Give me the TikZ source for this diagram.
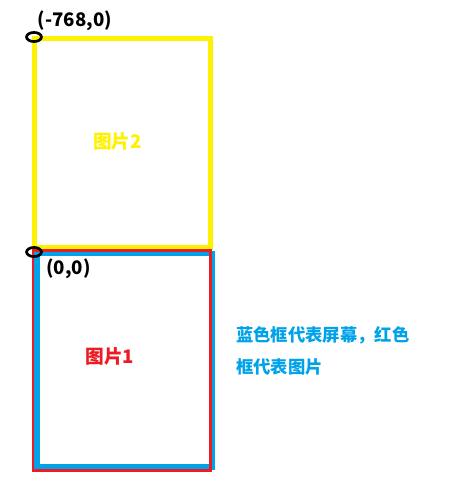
\documentclass[tikz,border=0pt]{standalone}
\usepackage{fontspec}
\newfontfamily\cjk{Noto Sans CJK SC}
\usetikzlibrary{positioning}
\definecolor{pyellow}{RGB}{255,242,0}
\definecolor{pblue}{RGB}{0,162,232}
\definecolor{pred}{RGB}{237,28,36}
\tikzset{
    yframe/.style = {draw=pyellow, line width=3.75pt},
    bframe/.style = {draw=pblue, line width=3.9pt},
    rframe/.style = {draw=pred, line width=1.6pt},
    origin/.style = {draw=black, line width=2pt},
    coord/.style = {font=\cjk\bfseries\fontsize{14}{16}\selectfont, text=black},
    lbl/.style = {font=\cjk\bfseries\fontsize{14}{16}\selectfont},
    note/.style = {font=\cjk\bfseries\fontsize{13}{15}\selectfont, text=pblue, anchor=west, inner sep=0pt}
}
\begin{document}
\begin{tikzpicture}[x=0.75pt, y=-0.75pt]
\useasboundingbox (0,0) rectangle (466,503);
% picture 2 (yellow), above the screen
\draw[yframe] (34.5,38.5) rectangle (210.5,247.5);
% picture 1 (red) and the screen (blue)
\draw[bframe] (37,253.5) rectangle (212,467);
\draw[rframe] (33,250.5) rectangle (210.5,470.5);
%
\coordinate (o2) at (34,37);
\coordinate (o1) at (34,252);
\draw[origin] (o2) ellipse (5.6pt and 3.4pt);
\draw[origin] (o1) ellipse (5.6pt and 3.4pt);
%
\node[coord] at (75,21) (top) {(-768,0)};
\node[coord] at (68.5,268.5) (zero) {(0,0)};
\node[lbl, text=pyellow] at (117.5,141) (p2) {图片2};
\node[lbl, text=pred] at (110,356) (p1) {图片1};
\node[note] at (236,335.5) (n1) {蓝色框代表屏幕，红色};
\node[note, below=23.5pt of n1.west, anchor=west] (n2) {框代表图片};
\end{tikzpicture}
\end{document}
